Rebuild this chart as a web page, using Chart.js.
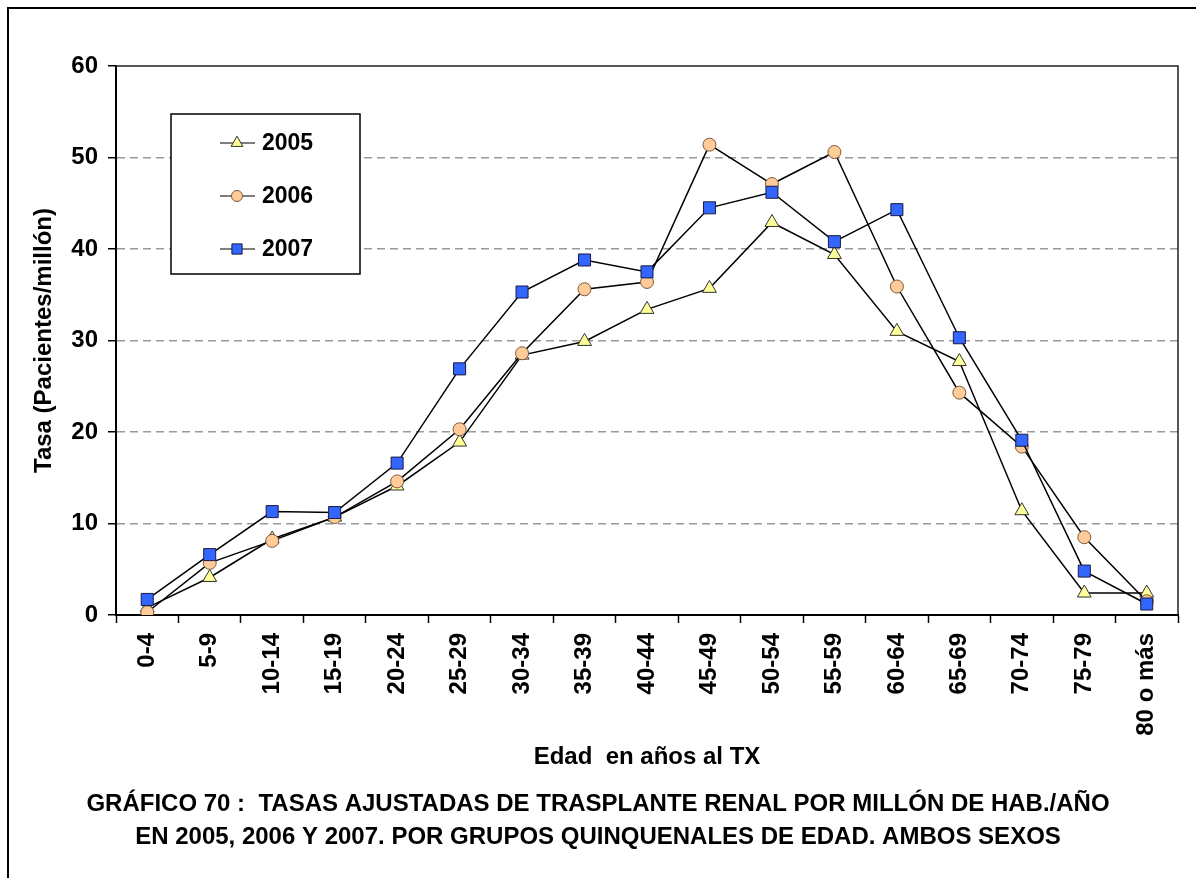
<!DOCTYPE html>
<html>
<head>
    <title>Gráfico 70</title>
    <script src="https://cdn.jsdelivr.net/npm/chart.js"></script>
    <style>
        html, body { margin: 0; padding: 0; background: #fff; overflow: hidden; }
        #frame { position: absolute; left: 7px; top: 7px; width: 1400px; height: 1000px;
                 border-left: 2px solid #000; border-top: 2px solid #000; }
        #wrap { position: absolute; left: 0; top: 0; width: 1196px; height: 878px; }
    </style>
</head>
<body>
    <div id="frame"></div>
    <div id="wrap"><canvas id="tasaChart" width="1196" height="878"></canvas></div>

    <script>
        // Age groups and rates per million
        const ageGroups = ['0-4', '5-9', '10-14', '15-19', '20-24', '25-29', '30-34', '35-39', '40-44',
                           '45-49', '50-54', '55-59', '60-64', '65-69', '70-74', '75-79', '80 o más'];
        const rates2005 = [0.8, 4.1, 8.3, 10.7, 14.1, 18.9, 28.4, 29.9, 33.4, 35.7, 42.9, 39.4, 31.0, 27.7, 11.4, 2.4, 2.4];
        const rates2006 = [0.3, 5.7, 8.1, 10.7, 14.6, 20.3, 28.6, 35.6, 36.4, 51.4, 47.1, 50.6, 35.9, 24.3, 18.4, 8.5, 1.5];
        const rates2007 = [1.7, 6.6, 11.3, 11.2, 16.6, 26.9, 35.3, 38.8, 37.5, 44.5, 46.2, 40.8, 44.3, 30.3, 19.1, 4.8, 1.2];
        const yTicks = [0, 10, 20, 30, 40, 50, 60];

        const captionLines = [
            'GRÁFICO 70 :  TASAS AJUSTADAS DE TRASPLANTE RENAL POR MILLÓN DE HAB./AÑO',
            'EN 2005, 2006 Y 2007. POR GRUPOS QUINQUENALES DE EDAD. AMBOS SEXOS'
        ];

        const FONT = 'Liberation Sans, Arial, sans-serif';
        const bold = size => ({ family: FONT, size: size, weight: 'bold' });

        // top + right frame of the plot area
        const plotFrame = {
            id: 'plotFrame',
            beforeDatasetsDraw(chart) {
                const { ctx, chartArea: a } = chart;
                ctx.save();
                ctx.strokeStyle = '#222';
                ctx.lineWidth = 1.5;
                ctx.beginPath();
                ctx.moveTo(a.left, a.top);
                ctx.lineTo(a.right, a.top);
                ctx.lineTo(a.right, a.bottom);
                ctx.stroke();
                ctx.restore();
            }
        };

        // boxed legend inside the plot, like the original
        const boxLegend = {
            id: 'boxLegend',
            afterDraw(chart) {
                const ctx = chart.ctx;
                const box = { x: 171, y: 114, w: 189, h: 160 };
                ctx.save();
                ctx.fillStyle = '#fff';
                ctx.fillRect(box.x, box.y, box.w, box.h);
                ctx.strokeStyle = '#000';
                ctx.lineWidth = 1.5;
                ctx.strokeRect(box.x, box.y, box.w, box.h);
                chart.data.datasets.forEach((ds, i) => {
                    const y = 143 + i * 53;
                    ctx.strokeStyle = '#000';
                    ctx.lineWidth = 1.2;
                    ctx.beginPath();
                    ctx.moveTo(220, y);
                    ctx.lineTo(255, y);
                    ctx.stroke();
                    ctx.fillStyle = ds.pointBackgroundColor;
                    ctx.strokeStyle = ds.pointBorderColor;
                    ctx.lineWidth = 1;
                    Chart.helpers.drawPoint(ctx, {
                        pointStyle: ds.pointStyle, radius: ds.pointRadius * 0.85, borderWidth: 1
                    }, 237, y);
                    ctx.fillStyle = '#000';
                    ctx.font = 'bold 23px ' + FONT;
                    ctx.textAlign = 'left';
                    ctx.textBaseline = 'middle';
                    ctx.fillText(ds.label, 262, y + 1);
                });
                ctx.restore();
            }
        };

        // two-line caption under the chart
        const caption = {
            id: 'caption',
            afterDraw(chart) {
                const ctx = chart.ctx;
                ctx.save();
                ctx.fillStyle = '#000';
                ctx.font = 'bold 24px ' + FONT;
                ctx.textAlign = 'center';
                ctx.textBaseline = 'middle';
                captionLines.forEach((t, i) => ctx.fillText(t, chart.width / 2, 804 + i * 33));
                ctx.restore();
            }
        };

        const series = (label, data, style, fill, edge, radius, order) => ({
            label: label,
            data: data,
            borderColor: '#000',
            borderWidth: 1.5,
            tension: 0,
            fill: false,
            pointStyle: style,
            pointRadius: radius,
            pointHoverRadius: radius,
            pointBackgroundColor: fill,
            pointBorderColor: edge,
            pointBorderWidth: 1,
            order: order
        });

        const ctx = document.getElementById('tasaChart').getContext('2d');
        new Chart(ctx, {
            type: 'line',
            data: {
                labels: ageGroups,
                datasets: [
                    series('2005', rates2005, 'triangle', '#FFFF99', '#333333', 8, 2),
                    series('2006', rates2006, 'circle', '#FFCC99', '#7a5a3a', 6.5, 1),
                    series('2007', rates2007, 'rect', '#3366FF', '#1a1a40', 8.5, 0)
                ]
            },
            options: {
                responsive: false,
                animation: false,
                layout: { padding: { left: 28, right: 18, top: 66, bottom: 88 } },
                plugins: {
                    legend: { display: false },
                    tooltip: { enabled: false }
                },
                scales: {
                    x: {
                        offset: true,
                        grid: { offset: true, drawOnChartArea: false, tickLength: 8, tickColor: '#000', tickWidth: 1.5 },
                        border: { color: '#000', width: 2 },
                        ticks: { autoSkip: false, minRotation: 90, maxRotation: 90, color: '#000', font: bold(24), padding: 10 },
                        title: { display: true, text: 'Edad  en años al TX', color: '#000', font: bold(24), padding: { top: 0, bottom: 18 } },
                        afterFit: s => { s.height = 175; }
                    },
                    y: {
                        min: 0,
                        max: 60,
                        afterBuildTicks: s => { s.ticks = yTicks.map(v => ({ value: v })); },
                        grid: {
                            color: c => (c.tick && (c.tick.value === 0 || c.tick.value === 60)) ? 'rgba(0,0,0,0)' : '#999',
                            lineWidth: 1.5,
                            tickLength: 8,
                            tickColor: '#000',
                            tickWidth: 1.5,
                            tickBorderDash: []
                        },
                        border: { color: '#000', width: 2, dash: [8, 5] },
                        ticks: { color: '#000', font: bold(24), padding: 10 },
                        title: { display: true, text: 'Tasa (Pacientes/millón)', color: '#000', font: bold(24), padding: { top: 2, bottom: 0 } },
                        afterFit: s => { s.width = 88; }
                    }
                }
            },
            plugins: [plotFrame, boxLegend, caption]
        });
    </script>
</body>
</html>
